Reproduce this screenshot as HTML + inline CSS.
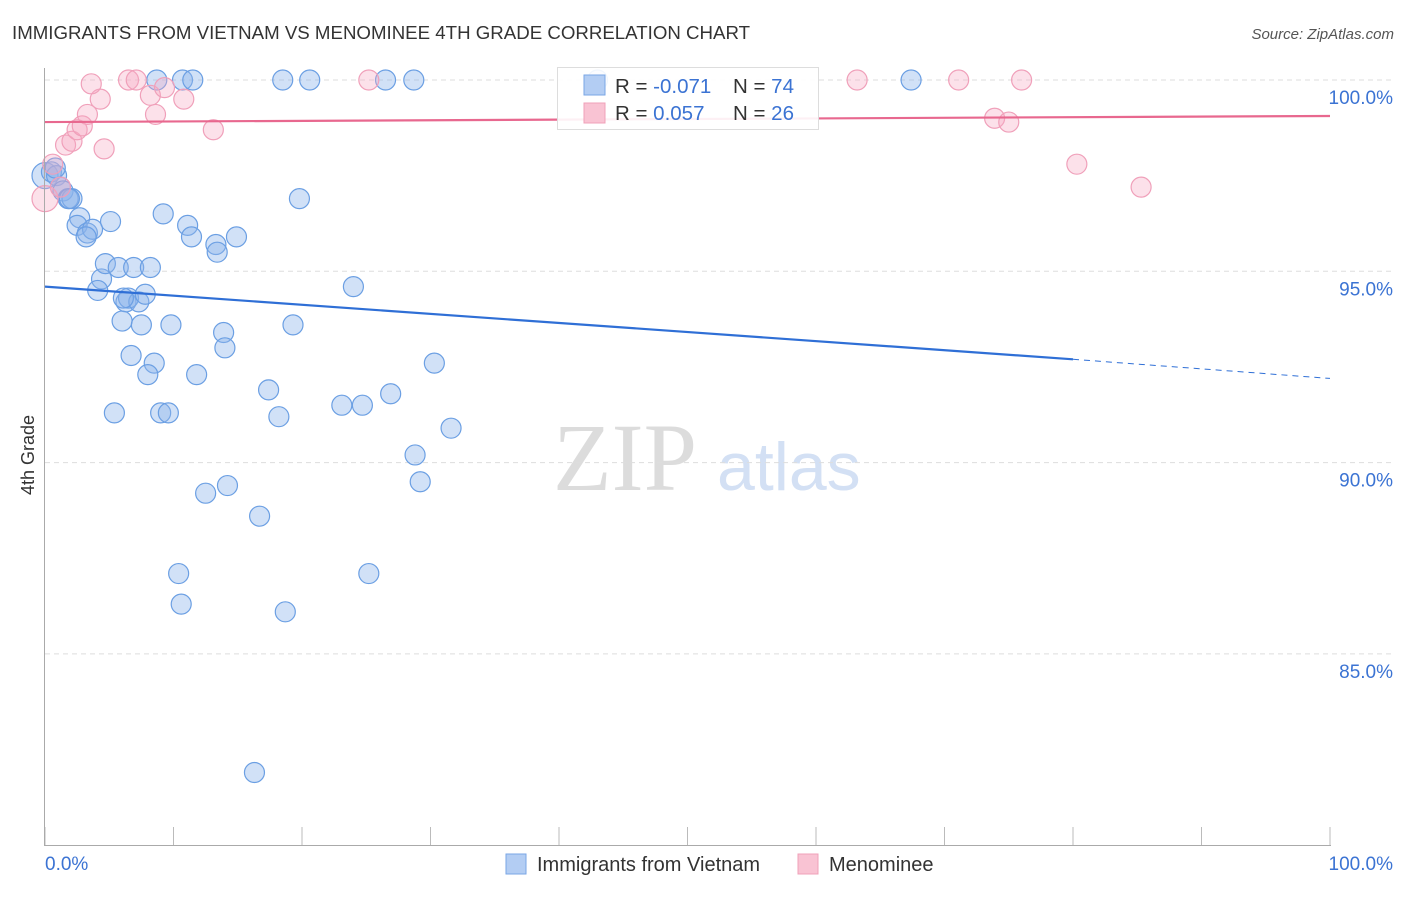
<!DOCTYPE html>
<html><head><meta charset="utf-8"><style>
body{margin:0;background:#fff;font-family:"Liberation Sans",sans-serif;}
svg text{font-family:"Liberation Sans",sans-serif;}
</style></head><body>
<svg id="chart" width="1406" height="892" xmlns="http://www.w3.org/2000/svg">
<text x="12" y="39" font-size="18" fill="#333" textLength="738" lengthAdjust="spacingAndGlyphs">IMMIGRANTS FROM VIETNAM VS MENOMINEE 4TH GRADE CORRELATION CHART</text>
<text x="1394" y="39" font-size="15" fill="#555" text-anchor="end" font-style="italic">Source: ZipAtlas.com</text>
<text x="553" y="490" font-size="96" fill="#dcdcdc" font-family="Liberation Serif" style="font-family:'Liberation Serif',serif">ZIP</text>
<text x="717" y="490" font-size="68" fill="#d3e0f4">atlas</text>
<text transform="translate(34,455) rotate(-90)" font-size="18" fill="#333" text-anchor="middle">4th Grade</text>
<g id="grid"></g><g id="ticks"></g><g id="pts"></g><g id="trends"></g>
<line x1="44.5" y1="68" x2="44.5" y2="846" stroke="#aaa"/>
<line x1="44" y1="845.5" x2="1331" y2="845.5" stroke="#aaa"/>
<text x="45" y="870" font-size="19" fill="#3b73d3">0.0%</text>
<text x="1393" y="870" font-size="19" fill="#3b73d3" text-anchor="end">100.0%</text>
<g>
<rect x="557.5" y="67.5" width="261" height="62" fill="#fff" fill-opacity="0.9" stroke="#ddd"/>
<rect x="584" y="75" width="21" height="20" fill="#b3cdf3" stroke="#7aa6e6"/>
<rect x="584" y="103" width="21" height="20" fill="#f9c3d3" stroke="#f0a0b8"/>
<text x="615" y="93" font-size="20.5" fill="#333">R = <tspan fill="#3b73d3">-0.071</tspan></text>
<text x="733" y="93" font-size="20.5" fill="#333">N = <tspan fill="#3b73d3">74</tspan></text>
<text x="615" y="120" font-size="20.5" fill="#333">R = <tspan fill="#3b73d3"> 0.057</tspan></text>
<text x="733" y="120" font-size="20.5" fill="#333">N = <tspan fill="#3b73d3">26</tspan></text>
</g>
<g>
<rect x="506" y="854" width="20" height="20" fill="#b3cdf3" stroke="#7aa6e6"/>
<text x="537" y="871" font-size="20" fill="#333">Immigrants from Vietnam</text>
<rect x="798" y="854" width="20" height="20" fill="#f9c3d3" stroke="#f0a0b8"/>
<text x="829" y="871" font-size="20" fill="#333">Menominee</text>
</g>
</svg>
<script>
const yTicks=[100,95,90,85];
const yTickLabels=["100.0%","95.0%","90.0%","85.0%"];
const xTicks=[0,10,20,30,40,50,60,70,80,90,100];
const blueX=[0,0.5,0.9,1.2,1.4,1.8,2.1,2.7,2.5,3.3,3.7,3.2,5.1,4.4,4.1,4.7,5.7,6.9,8.2,6.3,6.5,7.3,7.8,6.0,7.5,9.8,6.7,8.5,8.0,11.8,5.4,9.0,9.6,9.2,11.1,11.4,13.3,13.4,14.9,13.9,14.0,19.3,19.8,24.0,17.4,18.2,23.1,24.7,26.9,30.3,31.6,28.8,29.2,12.5,14.2,16.7,10.4,10.6,18.7,25.2,16.3,8.7,10.7,11.5,18.5,20.6,26.5,28.7,43.0,67.4,1.9,6.1,0.8];
const blueY=[97.5,97.6,97.5,97.2,97.1,96.9,96.9,96.4,96.2,96.0,96.1,95.9,96.3,94.8,94.5,95.2,95.1,95.1,95.1,94.2,94.3,94.2,94.4,93.7,93.6,93.6,92.8,92.6,92.3,92.3,91.3,91.3,91.3,96.5,96.2,95.9,95.7,95.5,95.9,93.4,93.0,93.6,96.9,94.6,91.9,91.2,91.5,91.5,91.8,92.6,90.9,90.2,89.5,89.2,89.4,88.6,87.1,86.3,86.1,87.1,81.9,100,100,100,100,100,100,100,100,100,96.9,94.3,97.7];
const pinkX=[0,0.6,1.2,1.6,2.1,2.5,2.9,3.3,4.6,4.3,3.6,6.5,7.1,8.2,8.6,9.3,10.8,13.1,25.2,63.2,71.1,76.0,73.9,75.0,80.3,85.3];
const pinkY=[96.9,97.8,97.2,98.3,98.4,98.7,98.8,99.1,98.2,99.5,99.9,100,100,99.6,99.1,99.8,99.5,98.7,100,100,100,100,99.0,98.9,97.8,97.2];
const blueTrend=[94.6,92.7,92.2];
const blueTrendX=[0,80,100];
const pinkTrend=[98.9,99.06];
const pinkTrendX=[0,100];
const NS="http://www.w3.org/2000/svg";
const sx=v=>45+v*12.85, sy=v=>80+(100-v)*38.26;
function mk(tag,attrs,parent){const e=document.createElementNS(NS,tag);for(const k in attrs)e.setAttribute(k,attrs[k]);parent.appendChild(e);return e;}
const grid=document.getElementById('grid');
yTicks.forEach((t,i)=>{
 const l=mk('line',{x1:45,x2:1393,y1:sy(t),y2:sy(t),stroke:'#ddd','stroke-dasharray':'5,4'},grid);
 
 
 const tx=mk('text',{x:1393,y:sy(t)+24,'font-size':19,fill:'#3b73d3','text-anchor':'end'},grid);
 tx.textContent=yTickLabels[i];
 
 
});
const ticks=document.getElementById('ticks');
xTicks.forEach(t=>{
 const l=mk('line',{x1:sx(t),x2:sx(t),y1:827,y2:845,stroke:'#bbb'},ticks);
 
 
});
const pts=document.getElementById('pts');
blueX.forEach((x,i)=>{
 const r=(x===0)?13:10;
 const c=mk('circle',{cx:sx(x),cy:sy(blueY[i]),r:r,fill:'rgba(140,180,235,0.4)',stroke:'#6b9fe3','stroke-width':1.2},pts);
 
 
});
pinkX.forEach((x,i)=>{
 const r=(x===0)?13:10;
 const c=mk('circle',{cx:sx(x),cy:sy(pinkY[i]),r:r,fill:'rgba(245,170,195,0.35)',stroke:'#f0a0ba','stroke-width':1.2},pts);
 
 
});
const tr=document.getElementById('trends');
const b1=mk('line',{x1:sx(blueTrendX[0]),y1:sy(blueTrend[0]),x2:sx(blueTrendX[1]),y2:sy(blueTrend[1]),stroke:'#2f6fd6','stroke-width':2.2},tr);


const b2=mk('line',{x1:sx(blueTrendX[1]),y1:sy(blueTrend[1]),x2:sx(blueTrendX[2]),y2:sy(blueTrend[2]),stroke:'#2f6fd6','stroke-width':1,'stroke-dasharray':'6,5'},tr);


const p1=mk('line',{x1:sx(pinkTrendX[0]),y1:sy(pinkTrend[0]),x2:sx(pinkTrendX[1]),y2:sy(pinkTrend[1]),stroke:'#e8688f','stroke-width':2.2},tr);


</script>
</body></html>
